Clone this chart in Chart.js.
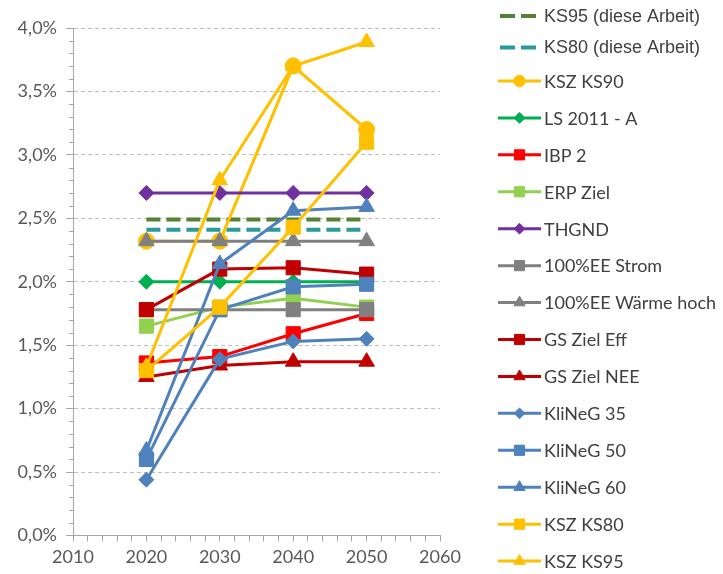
<!DOCTYPE html>
<html>
<head>
<meta charset="utf-8">
<script src="https://cdn.jsdelivr.net/npm/chart.js@4.4.1/dist/chart.umd.min.js"></script>
<style>
html,body{margin:0;padding:0;background:#ffffff;}
canvas{display:block;}
</style>
</head>
<body>
<canvas id="c" width="723" height="574" style="width:723px;height:574px"></canvas>
<script>
// ---- data (values in %) ----
const years = [2020, 2030, 2040, 2050];
const seriesLabels = [
  'KS95 (diese Arbeit)', 'KS80 (diese Arbeit)', 'KSZ KS90', 'LS 2011 - A', 'IBP 2',
  'ERP Ziel', 'THGND', '100%EE Strom', '100%EE Wärme hoch', 'GS Ziel Eff',
  'GS Ziel NEE', 'KliNeG 35', 'KliNeG 50', 'KliNeG 60', 'KSZ KS80', 'KSZ KS95'
];
const ks95Arbeit      = [2.49, 2.49, 2.49, 2.49];
const ks80Arbeit      = [2.41, 2.41, 2.41, 2.41];
const kszKS90         = [2.32, 2.32, 3.70, 3.20];
const ls2011A         = [2.00, 2.00, 2.00, 2.00];
const ibp2            = [1.36, 1.41, 1.59, 1.75];
const erpZiel         = [1.65, 1.80, 1.87, 1.80];
const thgnd           = [2.70, 2.70, 2.70, 2.70];
const ee100Strom      = [1.78, 1.78, 1.78, 1.78];
const ee100WaermeHoch = [2.32, 2.32, 2.32, 2.32];
const gsZielEff       = [1.78, 2.10, 2.11, 2.06];
const gsZielNEE       = [1.25, 1.34, 1.37, 1.37];
const klineg35        = [0.44, 1.39, 1.53, 1.55];
const klineg50        = [0.60, 1.78, 1.96, 1.98];
const klineg60        = [0.67, 2.14, 2.56, 2.59];
const kszKS80         = [1.30, 1.80, 2.43, 3.10];
const kszKS95         = [1.33, 2.80, 3.70, 3.89];
const xTickLabels = [2010, 2020, 2030, 2040, 2050, 2060];
const yTickLabels = ['0,0%', '0,5%', '1,0%', '1,5%', '2,0%', '2,5%', '3,0%', '3,5%', '4,0%'];

const seriesValues = [ks95Arbeit, ks80Arbeit, kszKS90, ls2011A, ibp2, erpZiel, thgnd,
  ee100Strom, ee100WaermeHoch, gsZielEff, gsZielNEE, klineg35, klineg50, klineg60, kszKS80, kszKS95];

// ---- styles ----
const seriesStyles = [
  {color:'#538135', dash:[14,6], width:4, point:false},
  {color:'#2B9A9C', dash:[14,6], width:4, point:false},
  {color:'#FFC000', style:'circle',  r:8},
  {color:'#00B050', style:'rectRot', r:7.5},
  {color:'#FF0000', style:'rect',    r:10},
  {color:'#92D050', style:'rect',    r:10},
  {color:'#7030A0', style:'rectRot', r:7.5},
  {color:'#808080', style:'rect',    r:10},
  {color:'#808080', style:'triangle',r:9},
  {color:'#C00000', style:'rect',    r:10},
  {color:'#C00000', style:'triangle',r:9},
  {color:'#4F81BD', style:'rectRot', r:7.5},
  {color:'#4F81BD', style:'rect',    r:10},
  {color:'#4F81BD', style:'triangle',r:9},
  {color:'#FFC000', style:'rect',    r:10},
  {color:'#FFC000', style:'triangle',r:9}
];

const N = seriesLabels.length;
const datasets = seriesLabels.map((label, i) => {
  const s = seriesStyles[i];
  const hasPoint = s.point !== false;
  return {
    label: label,
    data: years.map((yr, k) => ({x: yr, y: seriesValues[i][k]})),
    borderColor: s.color,
    backgroundColor: s.color,
    borderWidth: s.width || 3,
    borderDash: s.dash || [],
    pointStyle: hasPoint ? s.style : false,
    pointRadius: hasPoint ? s.r : 0,
    pointHoverRadius: hasPoint ? s.r : 0,
    pointBackgroundColor: s.color,
    pointBorderColor: s.color,
    pointBorderWidth: 1,
    tension: 0,
    fill: false,
    order: N - i
  };
});

const TICK_COLOR = '#595959';
const AXIS_COLOR = '#A6A6A6';

function drawMarker(ctx, style, r, x, y) {
  if (Chart.helpers && Chart.helpers.drawPoint) {
    Chart.helpers.drawPoint(ctx, {pointStyle: style, radius: r, borderWidth: 1, rotation: 0}, x, y);
    return;
  }
  ctx.beginPath();
  ctx.arc(x, y, r, 0, Math.PI * 2);
  ctx.fill(); ctx.stroke();
}

const sideLegend = {
  id: 'sideLegend',
  afterDraw(chart) {
    const ctx = chart.ctx;
    chart.data.datasets.forEach((ds, i) => {
      const s = seriesStyles[i];
      const y = i < 2 ? 16 + i * 31.5 : 81 + (i - 2) * 36.93;
      ctx.save();
      ctx.strokeStyle = s.color;
      ctx.fillStyle = s.color;
      if (s.dash) {
        ctx.lineWidth = 4;
        ctx.setLineDash([15, 6]);
        ctx.beginPath(); ctx.moveTo(500, y); ctx.lineTo(536, y); ctx.stroke();
        ctx.setLineDash([]);
      } else {
        ctx.lineWidth = 3;
        ctx.beginPath(); ctx.moveTo(498, y); ctx.lineTo(541, y); ctx.stroke();
        ctx.lineWidth = 1;
        drawMarker(ctx, s.style, s.r * 0.72, 519.5, y);
      }
      ctx.fillStyle = '#404040';
      ctx.textBaseline = 'middle';
      ctx.textAlign = 'left';
      ctx.font = i < 2 ? '18px "Liberation Sans", Arial, sans-serif' : '18px Lato, sans-serif';
      ctx.fillText(ds.label, 544, y + 1);
      ctx.restore();
    });
  }
};

const minorTicks = {
  id: 'minorTicks',
  afterDraw(chart) {
    const ys = chart.scales.y;
    const ctx = chart.ctx;
    const left = chart.chartArea.left;
    ctx.save();
    ctx.strokeStyle = AXIS_COLOR;
    ctx.lineWidth = 1;
    for (let k = 1; k < 40; k++) {
      if (k % 5 === 0) continue;
      const py = Math.round(ys.getPixelForValue(k / 10)) + 0.5;
      ctx.beginPath(); ctx.moveTo(left - 4, py); ctx.lineTo(left, py); ctx.stroke();
    }
    ctx.restore();
  }
};

new Chart(document.getElementById('c'), {
  type: 'line',
  data: { datasets: datasets },
  plugins: [minorTicks, sideLegend],
  options: {
    responsive: false,
    animation: false,
    devicePixelRatio: 1,
    layout: { padding: { top: 28, right: 283, left: 0, bottom: 0 } },
    plugins: { legend: { display: false }, tooltip: { enabled: false } },
    scales: {
      x: {
        type: 'linear',
        min: xTickLabels[0],
        max: xTickLabels[xTickLabels.length - 1],
        afterFit: (s) => { s.height = 38.5; },
        ticks: {
          stepSize: 2,
          autoSkip: false,
          maxRotation: 0,
          color: TICK_COLOR,
          font: { family: 'Lato', size: 18 },
          padding: 5,
          callback: (v) => xTickLabels.includes(v) ? String(v) : ''
        },
        grid: { drawOnChartArea: false, drawTicks: true, tickLength: 6, tickColor: AXIS_COLOR },
        border: { color: AXIS_COLOR, width: 1 }
      },
      y: {
        min: 0,
        max: 4,
        afterFit: (s) => { s.width = 73; },
        ticks: {
          stepSize: 0.5,
          color: TICK_COLOR,
          font: { family: 'Lato', size: 18 },
          padding: 9,
          callback: (v) => yTickLabels[Math.round(v * 2)]
        },
        grid: {
          color: (c) => (c.tick && c.tick.value === 0) ? 'rgba(0,0,0,0)' : '#BFBFBF',
          lineWidth: 1,
          drawTicks: true,
          tickLength: 7,
          tickColor: AXIS_COLOR
        },
        border: { color: AXIS_COLOR, width: 1, dash: [4, 3] }
      }
    }
  }
});
</script>
</body>
</html>
